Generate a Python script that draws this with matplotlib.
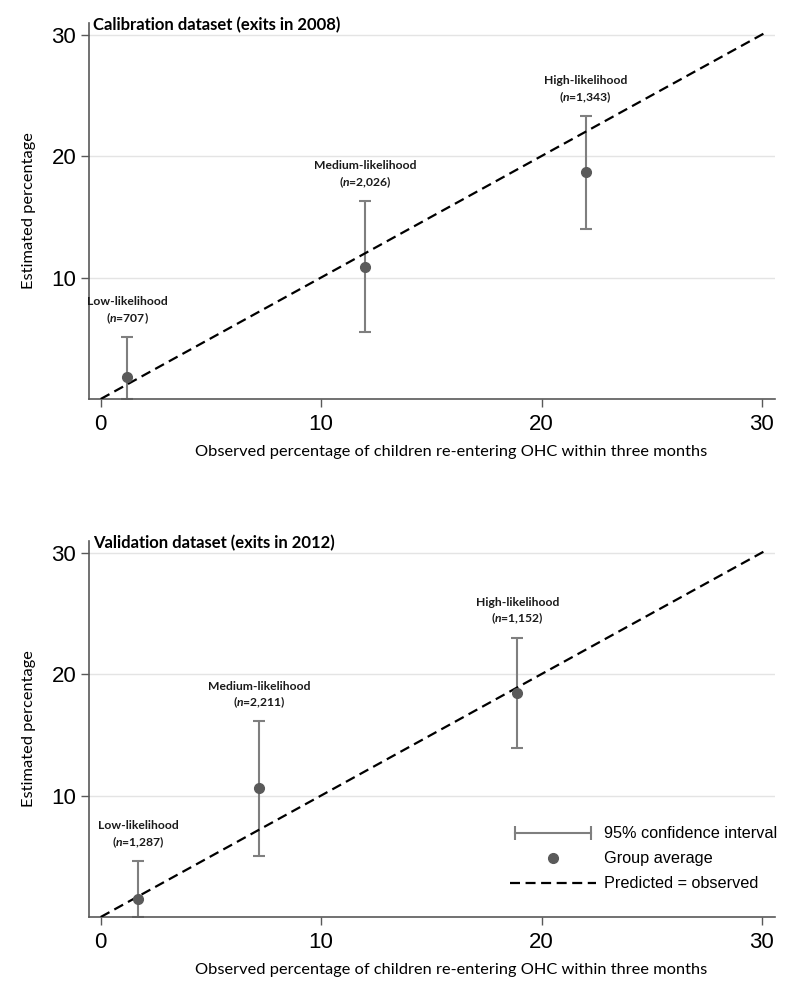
import matplotlib
matplotlib.use("Agg")
import matplotlib.pyplot as plt
from matplotlib.lines import Line2D
from matplotlib.legend_handler import HandlerLine2D

# groups and their sample sizes
groups = ["Low-likelihood", "Medium-likelihood", "High-likelihood"]

# calibration dataset (exits in 2008)
cal_obs = [1.2, 12.0, 22.0]
cal_est = [1.8, 10.9, 18.7]
cal_lo = [0.0, 5.5, 14.0]
cal_hi = [5.1, 16.3, 23.3]
cal_n = ["707", "2,026", "1,343"]

# validation dataset (exits in 2012)
val_obs = [1.7, 7.2, 18.9]
val_est = [1.5, 10.6, 18.4]
val_lo = [0.0, 5.0, 13.9]
val_hi = [4.6, 16.1, 23.0]
val_n = ["1,287", "2,211", "1,152"]

# predicted = observed reference line
diag = [0.0, 30.2]

panel_titles = ["Calibration dataset (exits in 2008)", "Validation dataset (exits in 2012)"]
xlabel = "Observed percentage of children re-entering OHC within three months"
ylabel = "Estimated percentage"

plt.rcParams["mathtext.fontset"] = "custom"
plt.rcParams["mathtext.it"] = "Lato:italic:bold"
plt.rcParams["mathtext.rm"] = "Lato:bold"

TEXT_FONT = "Lato"
TICK_FONT = "Liberation Sans"
GREY = "#7f7f7f"
SPINE = "#595959"
DASH = (0, (4.5, 2.5))

fig = plt.figure(figsize=(8.0, 9.96), dpi=100)
ax_top = fig.add_axes([0.111, 0.5994, 0.858, 0.3775])
ax_bot = fig.add_axes([0.111, 0.0793, 0.858, 0.3775])


def draw_panel(ax, obs, est, lo, hi, ns, title, legend=False):
    ax.grid(axis="y", color="#e4e4e4", linewidth=1.0)
    ax.set_axisbelow(True)
    for s in ["top", "right"]:
        ax.spines[s].set_visible(False)
    for s in ["left", "bottom"]:
        ax.spines[s].set_color(SPINE)
        ax.spines[s].set_linewidth(1.2)

    ax.plot(diag, diag, color="black", linestyle=DASH, linewidth=1.6, zorder=3)

    yerr = [[e - l for e, l in zip(est, lo)], [h - e for e, h in zip(est, hi)]]
    ax.errorbar(obs, est, yerr=yerr, fmt="none", ecolor=GREY, elinewidth=1.5,
                capsize=4.5, capthick=1.5, zorder=2)
    ax.plot(obs, est, "o", color="#5a5a5a", markersize=7, zorder=4,
            linestyle="none")

    for g, x, h, n in zip(groups, obs, hi, ns):
        ax.annotate(f"{g}\n($\\mathit{{n}}$={n})", xy=(x, h), xytext=(0, 8),
                    textcoords="offset points", ha="center", va="bottom",
                    fontsize=8.7, fontweight="bold", family=TEXT_FONT,
                    color="#1a1a1a", linespacing=1.25)

    ax.set_xlim(-0.54, 30.6)
    ax.set_ylim(0, 30.95)
    ax.set_xticks([0, 10, 20, 30])
    ax.set_yticks([10, 20, 30])
    ax.tick_params(axis="both", direction="out", length=6, width=1.0,
                   color=SPINE, labelsize=16)
    ax.tick_params(axis="x", pad=5)
    ax.tick_params(axis="y", pad=3)
    for lab in ax.get_xticklabels() + ax.get_yticklabels():
        lab.set_family(TICK_FONT)

    ax.set_xlabel(xlabel, fontsize=11.8, family=TEXT_FONT, x=0.528, labelpad=7)
    ax.set_ylabel(ylabel, fontsize=11.8, family=TEXT_FONT, labelpad=11)
    ax.text(0.006, 0.995, title, transform=ax.transAxes, ha="left",
            va="center", fontsize=12, fontweight="bold", family=TEXT_FONT)

    if legend:
        ci = Line2D([], [], color=GREY, linewidth=1.5, marker="|",
                    markersize=10, markeredgewidth=1.5)
        avg = Line2D([], [], color="#5a5a5a", marker="o", markersize=7,
                     linestyle="none")
        dash = Line2D([], [], color="black", linestyle=DASH, linewidth=1.6)
        ax.legend([ci, avg, dash],
                  ["95% confidence interval", "Group average",
                   "Predicted = observed"],
                  handler_map={ci: HandlerLine2D(numpoints=2)},
                  numpoints=1, frameon=False, loc="lower right",
                  bbox_to_anchor=(1.025, 0.029), handlelength=5.3,
                  handletextpad=0.5, labelspacing=0.62,
                  prop={"family": TICK_FONT, "size": 11.7})


draw_panel(ax_top, cal_obs, cal_est, cal_lo, cal_hi, cal_n, panel_titles[0])
draw_panel(ax_bot, val_obs, val_est, val_lo, val_hi, val_n, panel_titles[1],
           legend=True)

fig.savefig("out.png", dpi=100, facecolor="white")
